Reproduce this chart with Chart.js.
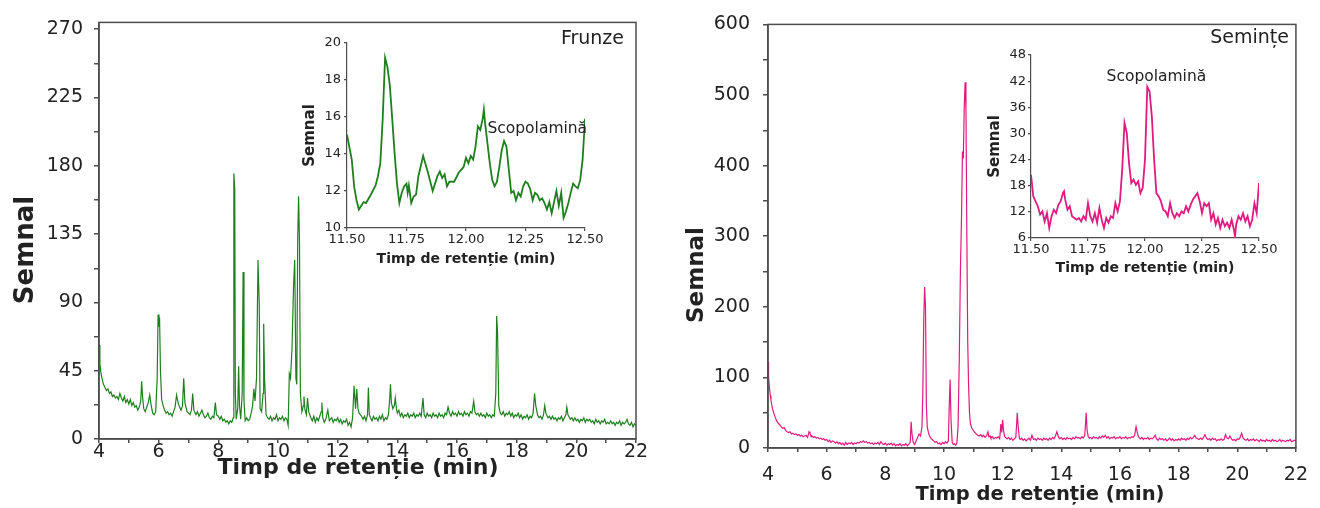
<!DOCTYPE html>
<html>
<head>
<meta charset="utf-8">
<script src="https://cdn.jsdelivr.net/npm/chart.js@4.4.1/dist/chart.umd.min.js"></script>
<style>
  body { margin: 0; background: #fff; width: 1320px; height: 508px; position: relative; overflow: hidden; }
  canvas { position: absolute; }
</style>
</head>
<body>
<canvas id="frunzeMain" width="660" height="508" style="left:0;top:0"></canvas>
<canvas id="semintaMain" width="660" height="508" style="left:660px;top:0"></canvas>
<canvas id="frunzeInset" width="310" height="250" style="left:296px;top:30px"></canvas>
<canvas id="semintaInset" width="305" height="245" style="left:975px;top:40px"></canvas>
<script>
// Frunze (leaves) chromatogram, retention time in min
const frunzeTime = [
  4.00, 4.03, 4.06, 4.10, 4.15, 4.20, 4.25, 4.30, 4.35, 4.40,
  4.45, 4.50, 4.55, 4.60, 4.65, 4.70, 4.75, 4.80, 4.85, 4.90,
  4.95, 5.00, 5.05, 5.10, 5.15, 5.20, 5.25, 5.30, 5.35, 5.40,
  5.43, 5.46, 5.50, 5.55, 5.60, 5.65, 5.70, 5.75, 5.80, 5.85,
  5.90, 5.95, 5.98, 6.01, 6.03, 6.06, 6.10, 6.15, 6.20, 6.25,
  6.30, 6.35, 6.40, 6.45, 6.50, 6.55, 6.60, 6.65, 6.70, 6.75,
  6.80, 6.84, 6.88, 6.95, 7.00, 7.05, 7.10, 7.14, 7.18, 7.25,
  7.30, 7.35, 7.40, 7.45, 7.50, 7.55, 7.60, 7.65, 7.70, 7.75,
  7.80, 7.85, 7.90, 7.94, 8.00, 8.05, 8.10, 8.15, 8.20, 8.25,
  8.30, 8.35, 8.40, 8.45, 8.50, 8.52, 8.55, 8.57, 8.60, 8.65,
  8.68, 8.71, 8.75, 8.80, 8.83, 8.86, 8.90, 8.95, 9.00, 9.05,
  9.10, 9.15, 9.19, 9.23, 9.28, 9.33, 9.37, 9.40, 9.45, 9.50,
  9.52, 9.55, 9.60, 9.65, 9.70, 9.75, 9.80, 9.85, 9.90, 9.95,
  10.00, 10.05, 10.10, 10.15, 10.20, 10.25, 10.30, 10.34, 10.38, 10.42,
  10.47, 10.52, 10.56, 10.60, 10.63, 10.66, 10.69, 10.72, 10.75, 10.80,
  10.85, 10.87, 10.90, 10.95, 10.99, 11.03, 11.10, 11.15, 11.20, 11.25,
  11.30, 11.35, 11.40, 11.45, 11.47, 11.50, 11.55, 11.60, 11.67, 11.72,
  11.80, 11.85, 11.90, 11.95, 12.00, 12.05, 12.10, 12.15, 12.20, 12.25,
  12.30, 12.35, 12.40, 12.45, 12.50, 12.55, 12.60, 12.64, 12.68, 12.72,
  12.80, 12.85, 12.90, 12.95, 13.00, 13.03, 13.06, 13.10, 13.15, 13.20,
  13.25, 13.30, 13.35, 13.40, 13.45, 13.50, 13.55, 13.60, 13.65, 13.70,
  13.74, 13.77, 13.80, 13.85, 13.90, 13.93, 13.97, 14.00, 14.05, 14.10,
  14.15, 14.20, 14.25, 14.30, 14.35, 14.40, 14.45, 14.50, 14.55, 14.60,
  14.65, 14.70, 14.75, 14.80, 14.86, 14.90, 14.95, 15.00, 15.05, 15.10,
  15.15, 15.20, 15.25, 15.30, 15.35, 15.40, 15.45, 15.50, 15.55, 15.60,
  15.65, 15.70, 15.75, 15.80, 15.85, 15.90, 15.95, 16.00, 16.05, 16.10,
  16.15, 16.20, 16.25, 16.30, 16.35, 16.40, 16.45, 16.50, 16.56, 16.60,
  16.65, 16.70, 16.75, 16.80, 16.85, 16.90, 16.95, 17.00, 17.05, 17.10,
  17.15, 17.20, 17.25, 17.30, 17.33, 17.36, 17.40, 17.45, 17.50, 17.55,
  17.60, 17.65, 17.70, 17.75, 17.80, 17.85, 17.90, 17.95, 18.00, 18.05,
  18.10, 18.15, 18.20, 18.25, 18.30, 18.35, 18.40, 18.45, 18.50, 18.55,
  18.60, 18.64, 18.70, 18.75, 18.80, 18.85, 18.90, 18.94, 18.98, 19.05,
  19.10, 19.15, 19.20, 19.25, 19.30, 19.35, 19.40, 19.45, 19.50, 19.55,
  19.60, 19.65, 19.68, 19.72, 19.80, 19.85, 19.90, 19.95, 20.00, 20.05,
  20.10, 20.15, 20.20, 20.25, 20.30, 20.35, 20.40, 20.45, 20.50, 20.55,
  20.60, 20.65, 20.70, 20.75, 20.80, 20.85, 20.90, 20.95, 21.00, 21.05,
  21.10, 21.15, 21.20, 21.25, 21.30, 21.35, 21.40, 21.45, 21.50, 21.55,
  21.60, 21.65, 21.70, 21.75, 21.80, 21.85, 21.90, 21.95, 22.00
];
const frunzeSignal = [
  62, 50, 44, 40, 36, 34, 32, 33, 30, 31,
  28, 29, 27, 28, 26, 30, 27, 25, 28, 24,
  26, 23, 26, 22, 24, 21, 22, 19, 21, 25,
  38, 28, 20, 18, 21, 24, 29, 22, 17, 16,
  18, 40, 82, 74, 80, 45, 26, 22, 19, 17,
  18, 16, 17, 15, 18, 21, 29, 24, 21, 19,
  22, 40, 24, 18, 17, 16, 19, 30, 19, 16,
  18, 15, 17, 19, 16, 14, 15, 17, 14, 13,
  15, 14, 24, 16, 15, 13, 15, 12, 13, 11,
  12, 10, 12, 11, 14, 175, 165, 30, 13, 20,
  48, 22, 13, 30, 110, 25, 12, 14, 12, 13,
  17, 22, 33, 25, 40, 118, 90, 20, 18, 30,
  76, 40, 16, 14, 13, 15, 12, 14, 13, 16,
  12, 14, 13, 15, 12, 14, 13, 9, 43, 40,
  60, 100, 118, 40, 36, 130, 160, 130, 30, 18,
  22, 28, 20, 16, 27, 18, 14, 12, 15, 11,
  14, 12, 15, 18, 24, 14, 11, 13, 19, 12,
  14, 11, 13, 12, 14, 11, 13, 10, 12, 11,
  13, 9, 11, 8, 14, 35, 20, 33, 20, 17,
  15, 13, 15, 12, 16, 34, 16, 14, 12, 15,
  13, 14, 12, 15, 13, 16, 12, 14, 13, 16,
  25, 36, 24, 20, 22, 27, 20, 17, 19, 15,
  17, 14, 16, 15, 17, 14, 16, 15, 17, 14,
  16, 15, 17, 15, 27, 16, 14, 17, 15, 16,
  14, 17, 15, 16, 14, 17, 15, 16, 14, 17,
  16, 21, 17, 15, 18, 16, 17, 15, 18, 16,
  17, 15, 18, 16, 17, 15, 18, 17, 25, 18,
  16, 17, 15, 17, 15, 16, 14, 17, 15, 16,
  14, 16, 15, 30, 81, 70, 22, 17, 16, 18,
  15, 17, 16, 18, 15, 17, 14, 16, 15, 17,
  14, 16, 13, 15, 14, 16, 13, 15, 14, 17,
  30, 22, 16, 14, 15, 13, 16, 22, 17, 14,
  15, 13, 15, 13, 14, 12, 14, 13, 15, 12,
  14, 16, 21, 16, 13, 14, 12, 14, 12, 13,
  11, 13, 12, 14, 11, 13, 12, 13, 11, 12,
  10, 13, 11, 12, 10, 12, 11, 13, 10, 11,
  10, 12, 10, 11, 9, 11, 10, 12, 9, 11,
  10, 11, 13, 10, 9, 11, 8, 10, 9
];

// Seminte (seeds) chromatogram
const semintaTime = [
  4.00, 4.02, 4.05, 4.08, 4.10, 4.15, 4.20, 4.25, 4.30, 4.35,
  4.40, 4.45, 4.50, 4.55, 4.60, 4.65, 4.70, 4.75, 4.80, 4.85,
  4.90, 4.95, 5.00, 5.05, 5.10, 5.15, 5.20, 5.25, 5.30, 5.35,
  5.40, 5.43, 5.47, 5.50, 5.55, 5.60, 5.65, 5.70, 5.75, 5.80,
  5.85, 5.90, 5.95, 6.00, 6.05, 6.10, 6.15, 6.20, 6.25, 6.30,
  6.35, 6.40, 6.45, 6.50, 6.55, 6.60, 6.65, 6.70, 6.75, 6.80,
  6.85, 6.90, 6.95, 7.00, 7.05, 7.10, 7.15, 7.20, 7.25, 7.30,
  7.35, 7.40, 7.45, 7.50, 7.55, 7.60, 7.65, 7.70, 7.75, 7.80,
  7.85, 7.90, 7.95, 8.00, 8.05, 8.10, 8.15, 8.20, 8.25, 8.30,
  8.35, 8.40, 8.45, 8.50, 8.55, 8.60, 8.65, 8.70, 8.75, 8.80,
  8.85, 8.88, 8.91, 8.95, 9.00, 9.05, 9.10, 9.15, 9.20, 9.25,
  9.28, 9.31, 9.34, 9.37, 9.40, 9.43, 9.47, 9.50, 9.55, 9.60,
  9.65, 9.70, 9.75, 9.80, 9.85, 9.90, 9.95, 10.00, 10.05, 10.10,
  10.15, 10.18, 10.21, 10.24, 10.28, 10.32, 10.36, 10.40, 10.44, 10.48,
  10.52, 10.56, 10.60, 10.63, 10.66, 10.69, 10.72, 10.75, 10.78, 10.81,
  10.84, 10.87, 10.90, 10.95, 11.00, 11.05, 11.10, 11.15, 11.20, 11.25,
  11.30, 11.35, 11.40, 11.45, 11.50, 11.53, 11.57, 11.60, 11.65, 11.70,
  11.75, 11.80, 11.85, 11.90, 11.94, 11.97, 12.00, 12.03, 12.07, 12.10,
  12.15, 12.20, 12.25, 12.30, 12.35, 12.40, 12.45, 12.50, 12.53, 12.57,
  12.60, 12.65, 12.70, 12.75, 12.80, 12.85, 12.90, 12.95, 13.00, 13.05,
  13.10, 13.15, 13.20, 13.25, 13.30, 13.35, 13.40, 13.45, 13.50, 13.55,
  13.60, 13.65, 13.70, 13.75, 13.80, 13.85, 13.90, 13.95, 14.00, 14.05,
  14.10, 14.15, 14.20, 14.25, 14.30, 14.35, 14.40, 14.45, 14.50, 14.55,
  14.60, 14.65, 14.70, 14.75, 14.80, 14.85, 14.88, 14.92, 14.96, 15.00,
  15.05, 15.10, 15.15, 15.20, 15.25, 15.30, 15.35, 15.40, 15.45, 15.50,
  15.55, 15.60, 15.65, 15.70, 15.75, 15.80, 15.85, 15.90, 15.95, 16.00,
  16.05, 16.10, 16.15, 16.20, 16.25, 16.30, 16.35, 16.40, 16.45, 16.50,
  16.55, 16.60, 16.65, 16.70, 16.75, 16.80, 16.85, 16.90, 16.95, 17.00,
  17.05, 17.10, 17.15, 17.20, 17.25, 17.30, 17.35, 17.40, 17.45, 17.50,
  17.55, 17.60, 17.65, 17.70, 17.75, 17.80, 17.85, 17.90, 17.95, 18.00,
  18.05, 18.10, 18.15, 18.20, 18.25, 18.30, 18.35, 18.40, 18.45, 18.50,
  18.55, 18.60, 18.65, 18.70, 18.75, 18.80, 18.85, 18.90, 18.95, 19.00,
  19.05, 19.10, 19.15, 19.20, 19.25, 19.30, 19.35, 19.40, 19.45, 19.50,
  19.55, 19.60, 19.65, 19.70, 19.75, 19.80, 19.85, 19.90, 19.95, 20.00,
  20.05, 20.10, 20.15, 20.20, 20.25, 20.30, 20.35, 20.40, 20.45, 20.50,
  20.55, 20.60, 20.65, 20.70, 20.75, 20.80, 20.85, 20.90, 20.95, 21.00,
  21.05, 21.10, 21.15, 21.20, 21.25, 21.30, 21.35, 21.40, 21.45, 21.50,
  21.55, 21.60, 21.65, 21.70, 21.75, 21.80, 21.85, 21.90, 21.95, 22.00
];
const semintaSignal = [
  122, 100, 85, 74, 68, 56, 49, 43, 38, 35,
  33, 30, 28, 29, 25, 23, 22, 23, 20, 21,
  19, 20, 18, 19, 17, 18, 16, 17, 18, 15,
  23, 21, 16, 17, 15, 16, 14, 15, 13, 14,
  12, 13, 11, 12, 9, 11, 8, 10, 9, 7,
  9, 6, 8, 5, 7, 4, 8, 5, 7, 6,
  8, 5, 7, 6, 8, 7, 9, 8, 10, 8,
  9, 7, 8, 6, 7, 5, 7, 6, 8, 5,
  9, 6, 5, 7, 4, 6, 5, 7, 4, 6,
  3, 5, 4, 6, 3, 5, 4, 6, 3, 5,
  8, 37, 20, 8, 5, 10, 15, 20, 17, 30,
  80, 180, 228, 200, 60, 30, 22, 18, 14, 12,
  10, 8, 9, 6, 7, 5, 8, 6, 9, 7,
  10, 60, 97, 40, 8, 5, 6, 4, 7, 30,
  120, 250, 330, 420, 410, 480, 518, 480, 300, 150,
  87, 50, 35, 28, 25, 22, 20, 18, 17, 19,
  16, 18, 15, 17, 23, 16, 17, 14, 16, 13,
  15, 14, 16, 13, 34, 22, 40, 25, 16, 15,
  13, 15, 12, 14, 11, 13, 15, 50, 30, 14,
  12, 14, 11, 13, 10, 12, 14, 11, 18, 12,
  13, 11, 14, 12, 13, 11, 14, 12, 13, 11,
  14, 12, 15, 13, 17, 23, 16, 13, 15, 12,
  14, 12, 15, 13, 14, 12, 15, 13, 16, 14,
  15, 13, 16, 14, 18, 50, 25, 16, 14, 15,
  13, 16, 14, 15, 13, 16, 14, 17, 15, 18,
  14, 16, 13, 15, 14, 16, 13, 15, 14, 16,
  13, 15, 14, 16, 13, 15, 14, 16, 15, 18,
  30, 20, 15, 13, 15, 12, 14, 13, 15, 12,
  14, 13, 15, 18, 13, 11, 14, 12, 13, 11,
  13, 10, 12, 14, 11, 13, 10, 12, 11, 13,
  11, 14, 12, 13, 11, 14, 12, 15, 13, 15,
  18, 14, 13, 12, 14, 12, 15, 19, 14, 12,
  13, 11, 14, 12, 13, 10, 12, 11, 13, 11,
  12, 19, 14, 13, 17, 13, 11, 12, 10, 13,
  12, 15, 21, 14, 12, 11, 13, 10, 12, 11,
  13, 10, 12, 11, 9, 12, 10, 11, 9, 12,
  10, 11, 9, 12, 10, 11, 9, 10, 12, 9,
  11, 10, 9, 11, 10, 12, 9, 10, 11, 10
];

// Insets: 11.50 - 12.50 min window around scopolamine
const frunzeInsetTime = [
  11.50, 11.52, 11.53, 11.54, 11.55, 11.56, 11.57, 11.58, 11.60, 11.62,
  11.63, 11.64, 11.65, 11.66, 11.67, 11.68, 11.69, 11.70, 11.71, 11.72,
  11.73, 11.74, 11.75, 11.755, 11.76, 11.77, 11.78, 11.79, 11.80, 11.82,
  11.84, 11.86, 11.87, 11.88, 11.89, 11.90, 11.91, 11.92, 11.93, 11.95,
  11.97, 11.99, 12.00, 12.01, 12.02, 12.03, 12.04, 12.05, 12.06, 12.07,
  12.075, 12.08, 12.09, 12.10, 12.11, 12.12, 12.13, 12.14, 12.15, 12.16,
  12.17, 12.18, 12.19, 12.20, 12.21, 12.22, 12.23, 12.24, 12.25, 12.26,
  12.27, 12.28, 12.29, 12.30, 12.31, 12.32, 12.33, 12.34, 12.35, 12.36,
  12.37, 12.38, 12.39, 12.40, 12.41, 12.42, 12.43, 12.44, 12.45, 12.46,
  12.47, 12.48, 12.49, 12.50
];
const frunzeInsetSignal = [
  15.05, 13.7, 12.25, 11.5, 11.0, 11.2, 11.4, 11.35, 11.8, 12.3,
  12.8, 13.5, 15.9, 19.2, 18.7, 17.7, 15.9, 14.05, 12.4, 11.35,
  11.9, 12.25, 12.4, 11.9, 12.3, 11.35, 11.7, 11.8, 12.8, 13.9,
  13.0, 12.0, 12.4, 12.8, 13.05, 12.7, 12.9, 12.25, 12.5, 12.5,
  13.0, 13.3, 13.8, 13.5, 13.9, 13.7, 14.4, 15.5, 15.3, 15.9,
  16.4, 15.7, 14.6, 13.5, 12.6, 12.25, 12.5, 13.3, 14.2, 14.7,
  14.4, 13.15, 11.9, 12.0, 11.5, 11.9, 11.7, 12.25, 12.5, 12.4,
  12.1, 11.5, 11.9, 11.8, 11.5, 11.6, 11.35, 11.0, 11.4, 10.8,
  11.4, 12.0, 11.2, 11.9, 10.55, 10.9, 11.35, 11.9, 12.4, 12.25,
  12.15, 12.6, 13.7, 15.9
];
const semintaInsetTime = [
  11.50, 11.51, 11.52, 11.53, 11.54, 11.55, 11.56, 11.57, 11.58, 11.59,
  11.60, 11.61, 11.62, 11.63, 11.64, 11.645, 11.65, 11.66, 11.67, 11.68,
  11.69, 11.70, 11.71, 11.72, 11.73, 11.74, 11.75, 11.76, 11.77, 11.78,
  11.79, 11.80, 11.81, 11.82, 11.83, 11.84, 11.85, 11.86, 11.87, 11.88,
  11.89, 11.90, 11.91, 11.92, 11.93, 11.94, 11.95, 11.96, 11.97, 11.98,
  11.99, 12.00, 12.01, 12.02, 12.03, 12.04, 12.05, 12.06, 12.07, 12.08,
  12.09, 12.10, 12.11, 12.12, 12.13, 12.14, 12.15, 12.16, 12.17, 12.18,
  12.19, 12.20, 12.21, 12.22, 12.23, 12.24, 12.25, 12.26, 12.27, 12.28,
  12.29, 12.30, 12.31, 12.32, 12.33, 12.34, 12.35, 12.36, 12.37, 12.38,
  12.39, 12.395, 12.40, 12.41, 12.42, 12.43, 12.44, 12.45, 12.46, 12.47,
  12.48, 12.49, 12.50
];
const semintaInsetSignal = [
  20.5, 15.6, 14.4, 13.3, 11.4, 12.1, 9.8, 11.7, 8.3, 11.0,
  12.5, 11.7, 13.6, 14.4, 16.3, 16.7, 14.8, 12.5, 13.3, 11.0,
  10.6, 10.2, 10.6, 9.8, 11.0, 10.2, 14.0, 11.0, 9.8, 11.7,
  9.5, 12.9, 10.2, 8.3, 10.6, 9.5, 11.0, 10.6, 14.0, 12.1,
  14.4, 21.7, 32.4, 30.1, 23.2, 18.6, 19.4, 18.2, 19.0, 16.3,
  17.5, 24.0, 40.7, 39.6, 33.9, 24.0, 16.3, 15.6, 14.4, 12.5,
  12.1, 11.0, 14.0, 11.7, 10.6, 11.7, 11.0, 12.1, 11.7, 13.3,
  12.1, 13.6, 14.8, 15.6, 16.3, 14.4, 11.7, 14.0, 13.3, 14.0,
  10.2, 11.7, 9.1, 10.6, 8.3, 10.2, 8.7, 9.5, 8.3, 10.2,
  7.9, 6.4, 9.1, 11.0, 10.2, 11.7, 9.8, 11.0, 8.7, 10.2,
  14.0, 11.7, 18.6
];

// Axis ticks (minor ticks included) and which of them carry a label
const mainTimeTicks = [4, 5, 6, 7, 8, 9, 10, 11, 12, 13, 14, 15, 16, 17, 18, 19, 20, 21, 22];
const mainTimeLabels = [4, 6, 8, 10, 12, 14, 16, 18, 20, 22];
const frunzeSignalTicks = [0, 22.5, 45, 67.5, 90, 112.5, 135, 157.5, 180, 202.5, 225, 247.5, 270];
const frunzeSignalLabels = [0, 45, 90, 135, 180, 225, 270];
const semintaSignalTicks = [0, 50, 100, 150, 200, 250, 300, 350, 400, 450, 500, 550, 600];
const semintaSignalLabels = [0, 100, 200, 300, 400, 500, 600];
const insetTimeTicks = [11.5, 11.75, 12, 12.25, 12.5];
const frunzeInsetSignalTicks = [10, 12, 14, 16, 18, 20];
const semintaInsetSignalTicks = [6, 12, 18, 24, 30, 36, 42, 48];

const AXIS_COLOR = "#4d4d4d";
const TEXT_COLOR = "#222";
const FONT = "'DejaVu Sans', sans-serif";
const GREEN = "#1f7f1f";
const PINK = "#e2197f";
const TIME_TITLE = "Timp de retenție (min)";
const SIGNAL_TITLE = "Semnal";

function toPoints(times, values) {
  if (times.length !== values.length) console.warn("length mismatch", times.length, values.length);
  return times.map((t, i) => ({ x: t, y: values[i] }));
}

// frame around the plot, corner caption, peak label and the big axis titles
const chartDecor = {
  id: "chartDecor",
  afterDraw(chart, args, opts) {
    const { ctx, chartArea } = chart;
    ctx.save();
    ctx.fillStyle = TEXT_COLOR;
    ctx.textBaseline = "middle";
    if (opts.frame) {
      ctx.strokeStyle = AXIS_COLOR;
      ctx.lineWidth = 1.5;
      ctx.strokeRect(chartArea.left, chartArea.top, chartArea.right - chartArea.left, chartArea.bottom - chartArea.top);
    }
    if (opts.corner) {
      ctx.font = `${opts.corner.size}px ${FONT}`;
      ctx.textAlign = "right";
      ctx.fillText(opts.corner.text, chartArea.right - opts.corner.dx, chartArea.top + opts.corner.dy);
    }
    if (opts.peak) {
      const x = chart.scales.x.getPixelForValue(opts.peak.x);
      const y = chart.scales.y.getPixelForValue(opts.peak.y);
      ctx.font = `${opts.peak.size}px ${FONT}`;
      ctx.textAlign = opts.peak.align;
      ctx.fillText(opts.peak.text, x, y);
    }
    for (const t of opts.titles || []) {
      ctx.save();
      ctx.font = `bold ${t.size}px ${FONT}`;
      ctx.textAlign = "center";
      ctx.translate(t.x, t.y);
      if (t.rotate) ctx.rotate(-Math.PI / 2);
      ctx.fillText(t.text, 0, 0);
      ctx.restore();
    }
    ctx.restore();
  },
};

function axisOptions(o) {
  const vertical = o.position === "left";
  return {
    type: "linear",
    position: o.position,
    min: o.min,
    max: o.max,
    afterFit: (scale) => {
      if (vertical) scale.width = o.size;
      else scale.height = o.size;
    },
    afterBuildTicks: (scale) => {
      scale.ticks = o.ticks.map((v) => ({ value: v }));
    },
    border: { display: true, color: AXIS_COLOR, width: o.lineWidth },
    grid: {
      display: true,
      drawOnChartArea: false,
      drawTicks: true,
      tickLength: o.tickLength,
      color: AXIS_COLOR,
      lineWidth: o.lineWidth,
    },
    ticks: {
      autoSkip: false,
      maxRotation: 0,
      padding: o.tickPadding,
      color: TEXT_COLOR,
      font: { family: FONT, size: o.fontSize },
      callback: (v) => (o.labels.includes(v) ? o.format(v) : ""),
    },
    title: {
      display: Boolean(o.title),
      text: o.title || "",
      color: TEXT_COLOR,
      font: { family: FONT, size: o.titleSize, weight: "bold" },
      padding: vertical ? { top: o.titlePadding, bottom: 0 } : { top: 0, bottom: o.titlePadding },
    },
  };
}

function buildChart(id, cfg) {
  return new Chart(document.getElementById(id), {
    type: "line",
    data: {
      datasets: [
        {
          data: toPoints(cfg.times, cfg.values),
          borderColor: cfg.color,
          borderWidth: cfg.lineWidth,
          pointRadius: 0,
          tension: 0,
          fill: false,
        },
      ],
    },
    options: {
      responsive: false,
      animation: false,
      events: [],
      layout: { padding: cfg.padding },
      plugins: {
        legend: { display: false },
        tooltip: { enabled: false },
        chartDecor: cfg.decor,
      },
      scales: { x: axisOptions(cfg.x), y: axisOptions(cfg.y) },
    },
    plugins: [chartDecor],
  });
}

const plain = (v) => String(v);
const twoDecimals = (v) => v.toFixed(2);

buildChart("frunzeMain", {
  times: frunzeTime,
  values: frunzeSignal,
  color: GREEN,
  lineWidth: 1.2,
  padding: { left: 0, top: 16, right: 24, bottom: 0 },
  decor: {
    frame: true,
    corner: { text: "Frunze", size: 19, dx: 12, dy: 17 },
    titles: [
      { text: TIME_TITLE, size: 22, x: 358, y: 468 },
      { text: SIGNAL_TITLE, size: 26, x: 26, y: 250, rotate: true },
    ],
  },
  x: {
    position: "bottom", min: 4, max: 22, size: 69, ticks: mainTimeTicks, labels: mainTimeLabels, format: plain,
    lineWidth: 1.5, tickLength: 4, tickPadding: -2, fontSize: 19,
  },
  y: {
    position: "left", min: 0, max: 274.5, size: 99, ticks: frunzeSignalTicks, labels: frunzeSignalLabels, format: plain,
    lineWidth: 1.5, tickLength: 5, tickPadding: 11, fontSize: 19,
  },
});

buildChart("semintaMain", {
  times: semintaTime,
  values: semintaSignal,
  color: PINK,
  lineWidth: 1.2,
  padding: { left: 0, top: 23, right: 12, bottom: 0 },
  decor: {
    frame: true,
    corner: { text: "Semințe", size: 19, dx: 7, dy: 14 },
    titles: [
      { text: TIME_TITLE, size: 19.5, x: 380, y: 495 },
      { text: SIGNAL_TITLE, size: 23, x: 37, y: 275, rotate: true },
    ],
  },
  x: {
    position: "bottom", min: 4, max: 22, size: 60, ticks: mainTimeTicks, labels: mainTimeLabels, format: plain,
    lineWidth: 1.5, tickLength: 4, tickPadding: 12, fontSize: 19,
  },
  y: {
    position: "left", min: 0, max: 600, size: 108, ticks: semintaSignalTicks, labels: semintaSignalLabels, format: plain,
    lineWidth: 1.5, tickLength: 5, tickPadding: 13, fontSize: 19,
  },
});

buildChart("frunzeInset", {
  times: frunzeInsetTime,
  values: frunzeInsetSignal,
  color: GREEN,
  lineWidth: 1.8,
  padding: { left: 0, top: 13, right: 21, bottom: 0 },
  decor: { peak: { text: "Scopolamină", size: 15.5, x: 12.09, y: 15.35, align: "left" } },
  x: {
    position: "bottom", min: 11.5, max: 12.5, size: 52, ticks: insetTimeTicks, labels: insetTimeTicks, format: twoDecimals,
    lineWidth: 1.2, tickLength: 3, tickPadding: 1, fontSize: 13,
    title: TIME_TITLE, titleSize: 14, titlePadding: 12,
  },
  y: {
    position: "left", min: 10, max: 20, size: 51, ticks: frunzeInsetSignalTicks, labels: frunzeInsetSignalTicks, format: plain,
    lineWidth: 1.2, tickLength: 3, tickPadding: 3, fontSize: 13,
    title: SIGNAL_TITLE, titleSize: 15, titlePadding: 5,
  },
});

buildChart("semintaInset", {
  times: semintaInsetTime,
  values: semintaInsetSignal,
  color: PINK,
  lineWidth: 1.8,
  padding: { left: 0, top: 15, right: 21, bottom: 0 },
  decor: { peak: { text: "Scopolamină", size: 15.5, x: 12.05, y: 42.9, align: "center" } },
  x: {
    position: "bottom", min: 11.5, max: 12.5, size: 47, ticks: insetTimeTicks, labels: insetTimeTicks, format: twoDecimals,
    lineWidth: 1.2, tickLength: 3, tickPadding: 1, fontSize: 13,
    title: TIME_TITLE, titleSize: 14, titlePadding: 8,
  },
  y: {
    position: "left", min: 6, max: 48, size: 56, ticks: semintaInsetSignalTicks, labels: semintaInsetSignalTicks, format: plain,
    lineWidth: 1.2, tickLength: 3, tickPadding: 2, fontSize: 13,
    title: SIGNAL_TITLE, titleSize: 15, titlePadding: 11,
  },
});
</script>
</body>
</html>
